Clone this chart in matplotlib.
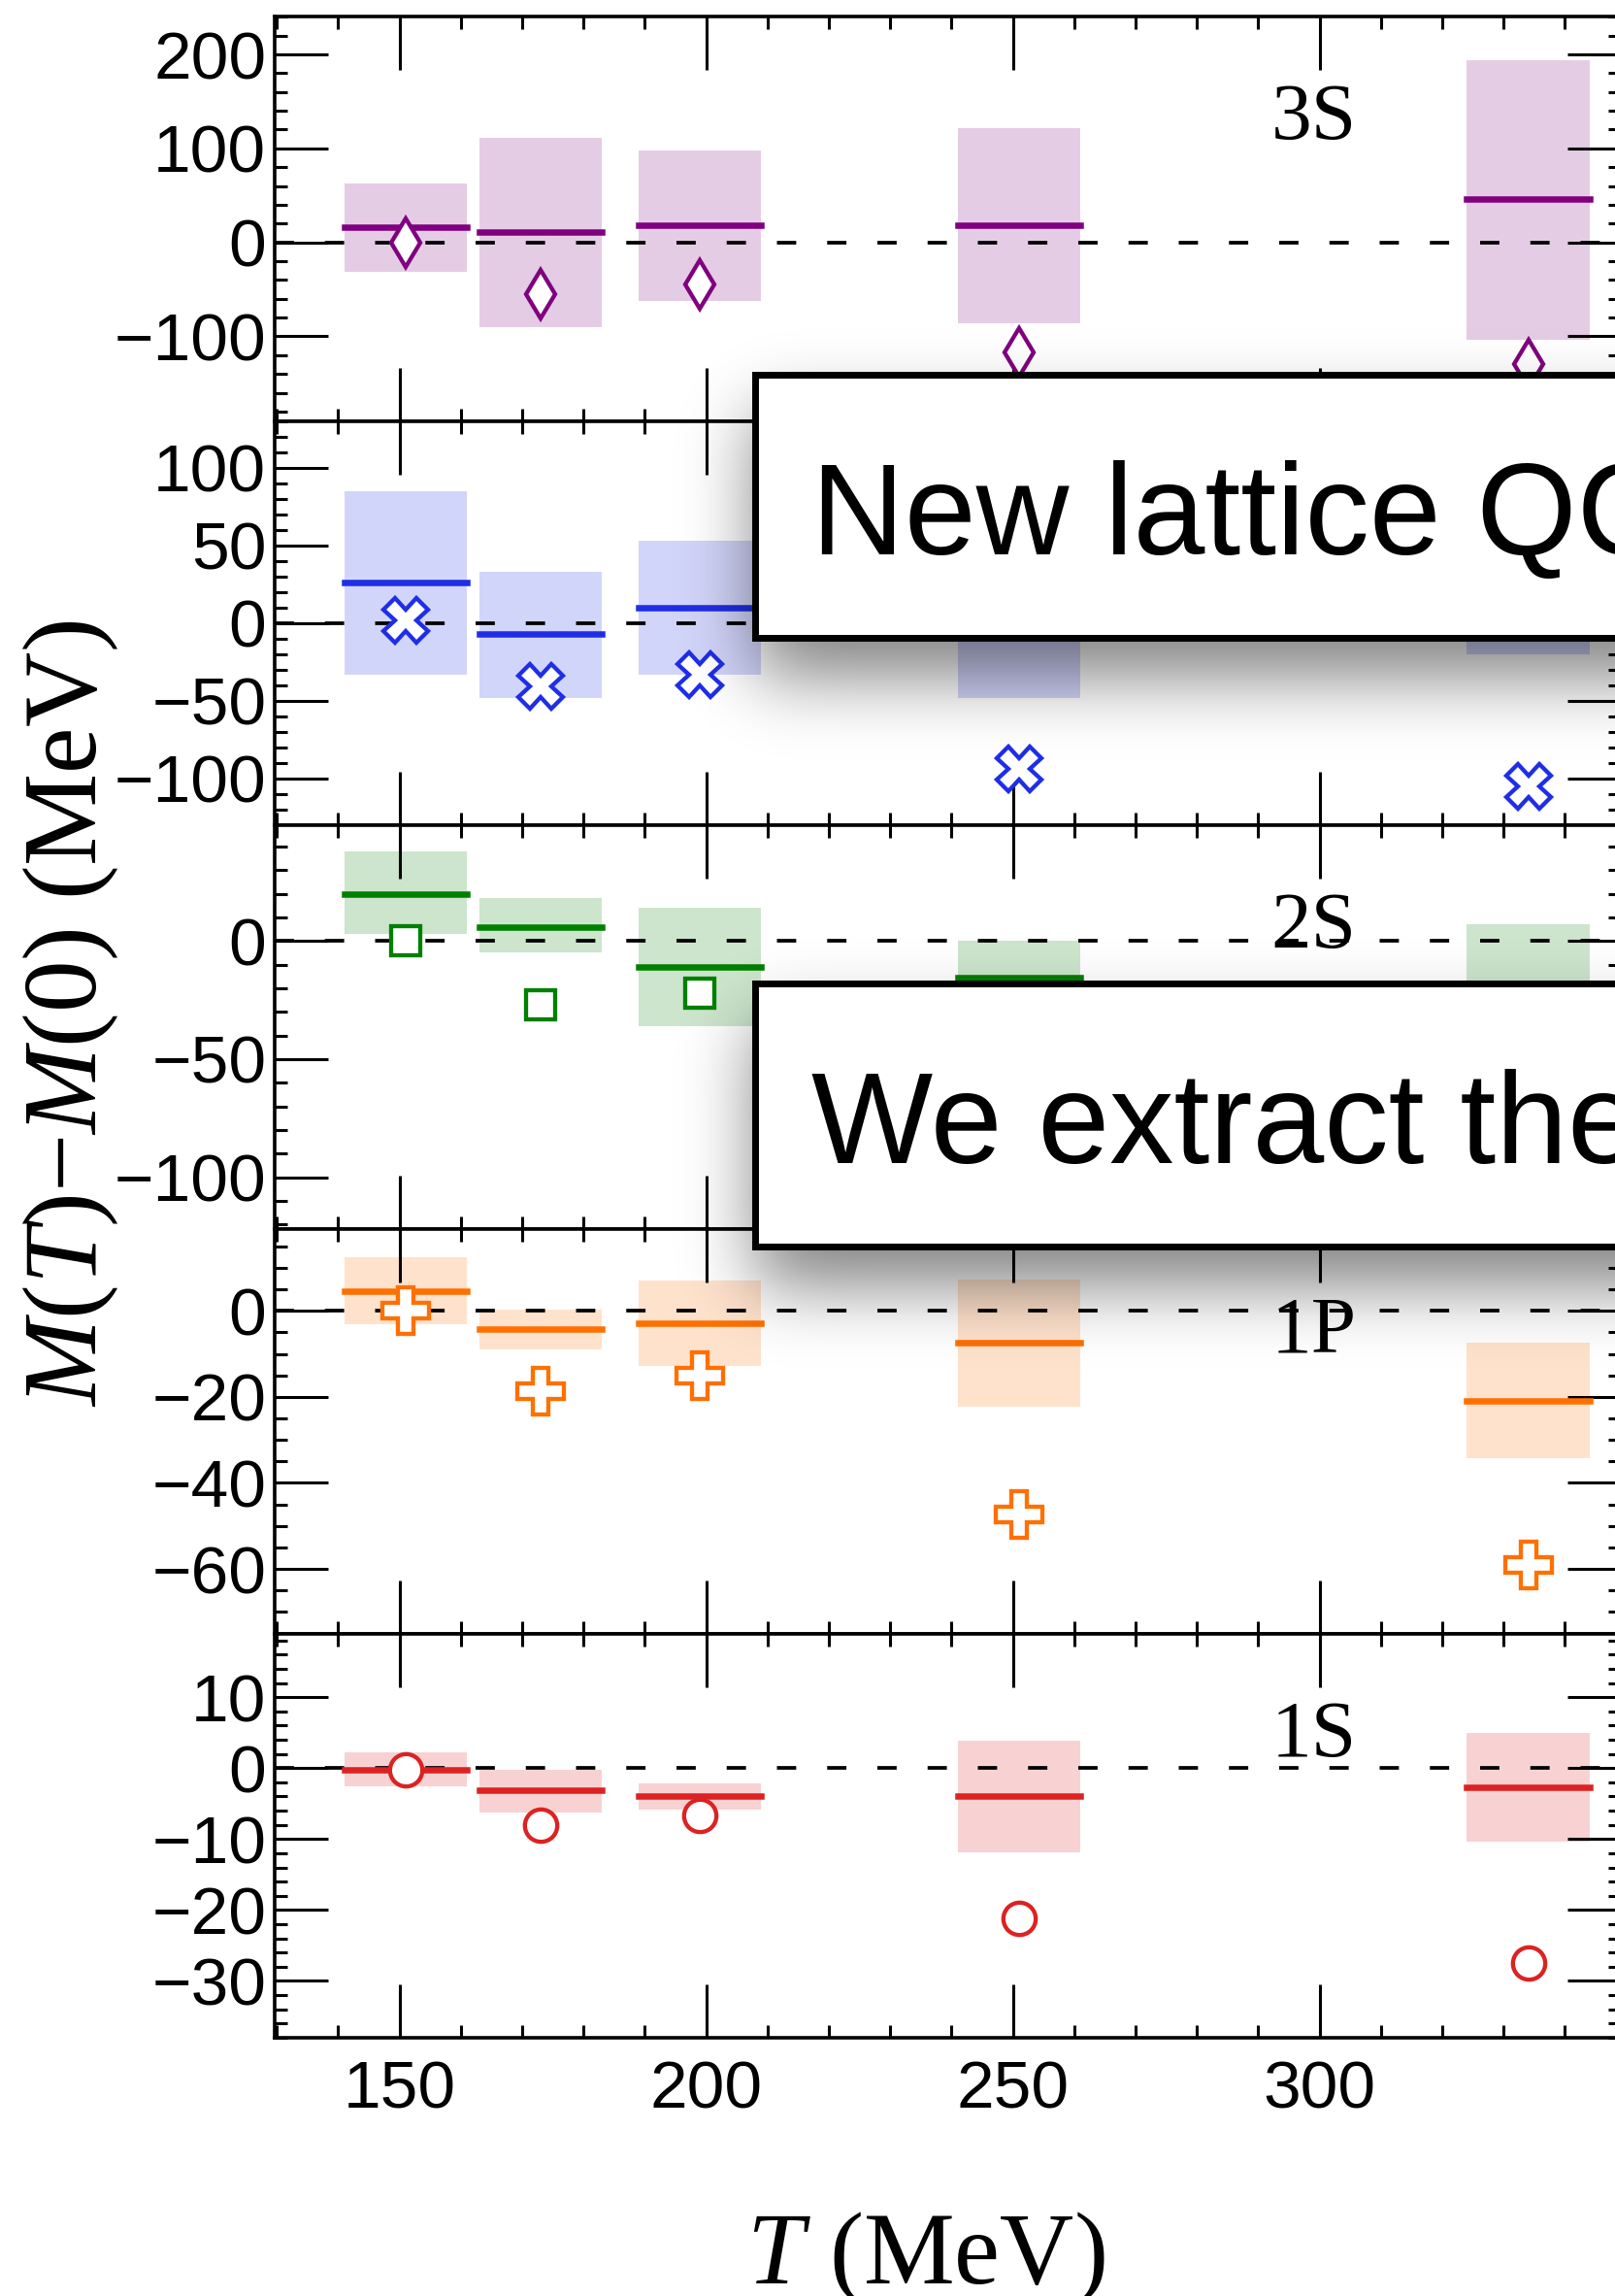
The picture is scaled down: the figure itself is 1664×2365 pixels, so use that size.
import math
import numpy as np
import matplotlib
matplotlib.use('Agg')
import matplotlib.pyplot as plt
from matplotlib.patches import Rectangle
from matplotlib.ticker import MultipleLocator

plt.rcParams['font.family'] = ['Liberation Sans', 'DejaVu Sans']
plt.rcParams['mathtext.fontset'] = 'custom'
plt.rcParams['mathtext.rm'] = 'Liberation Serif'
plt.rcParams['mathtext.it'] = 'Liberation Serif:italic'

# temperatures of the lattice ensembles (MeV)
temps = [151, 173, 199, 251, 334]

# mass shifts M(T)-M(0) in MeV: central value, band low/high, open-marker points
center_3s = [16, 11, 18, 18, 46]
low_3s = [-31, -90, -62, -86, -104]
high_3s = [63, 111, 98, 122, 194]
pts_3s = [0, -55, -45, -117, -129]

center_2p = [26, -7, 10, 4, 35]
low_2p = [-33, -48, -33, -48, -20]
high_2p = [85, 33, 53, 55, 95]
pts_2p = [2, -41, -33, -94, -105]

center_2s = [20, 6, -11, -15.5, -30]
low_2s = [3, -5, -36, -45, -65]
high_2s = [38, 18, 14, 0, 7]
pts_2s = [0, -27, -22, -55, -80]

center_1p = [4.7, -4.3, -2.9, -7.4, -20.9]
low_1p = [-3.1, -9, -12.8, -22.3, -34.2]
high_1p = [12.4, 0.2, 7, 7.2, -7.4]
pts_1p = [0, -18.6, -15, -47.3, -59]

center_1s = [-0.2, -3.1, -4.0, -4.0, -2.7]
low_1s = [-2.6, -6.2, -5.9, -11.9, -10.4]
high_1s = [2.2, -0.2, -2.1, 3.9, 4.9]
pts_1s = [-0.3, -8.1, -6.7, -21.2, -27.5]

states = ['3S', '2P', '2S', '1P', '1S']
centers = [center_3s, center_2p, center_2s, center_1p, center_1s]
lows = [low_3s, low_2p, low_2s, low_1p, low_1s]
highs = [high_3s, high_2p, high_2s, high_1p, high_1s]
points = [pts_3s, pts_2p, pts_2s, pts_1p, pts_1s]

colors = ['#800080', '#1F2EE6', '#008000', '#FF7000', '#DC2222']
markers = ['d', 'X', 's', 'P', 'o']
msizes = {'d': 25.5, 'X': 33, 's': 21.6, 'P': 34, 'o': 24}
ylims = [(-190, 240), (-130, 130), (-122, 49), (-75, 19), (-38, 19)]
ymajor = [100, 50, 50, 20, 10]
yminor = [20, 10, 10, 5, 2]

W, H, DPI = 1665, 2365, 100
fig = plt.figure(figsize=(W / DPI, H / DPI), dpi=DPI)

left, right = 282.6, 1670.0
top, panel_h = 17.3, 416.3
half = 10

axes = []
for i in range(5):
    y_top = top + i * panel_h
    ax = fig.add_axes([left / W, 1 - (y_top + panel_h) / H,
                       (right - left) / W, panel_h / H])
    axes.append(ax)
    c = colors[i]
    lo = np.array(lows[i], dtype=float)
    hi = np.array(highs[i], dtype=float)
    t = np.array(temps, dtype=float)

    ax.bar(t, hi - lo, bottom=lo, width=2 * half, color=c, alpha=0.2,
           linewidth=0, zorder=1)
    ax.axhline(0, color='black', lw=2.7, ls=(0, (5.3, 8.5)), zorder=2)
    ax.hlines(centers[i], t - half, t + half, colors=c, lw=4.7,
              capstyle='projecting', zorder=3)
    ax.plot(t, points[i], ls='none', marker=markers[i], ms=msizes[markers[i]],
            mfc='white', mec=c, mew=3.1, zorder=4)

    ax.text(299, 0.697, states[i], transform=ax.get_xaxis_transform(),
            ha='center', va='baseline', fontsize=60,
            family='Liberation Serif', zorder=5)

    ax.set_xlim(129.6, 349.1)
    ax.set_ylim(*ylims[i])
    ax.xaxis.set_major_locator(MultipleLocator(50))
    ax.xaxis.set_minor_locator(MultipleLocator(10))
    ax.yaxis.set_major_locator(MultipleLocator(ymajor[i]))
    ax.yaxis.set_minor_locator(MultipleLocator(yminor[i]))
    ax.tick_params(which='both', direction='in', top=True, right=True,
                   width=2.2, labelsize=50)
    ax.tick_params(which='major', length=39.6)
    ax.tick_params(which='minor', length=9.4)
    ax.tick_params(axis='y', pad=6)
    ax.tick_params(axis='x', pad=16, labelbottom=(i == 4))
    for sp in ax.spines.values():
        sp.set_linewidth(2.6)

fig.text(73 / W, 1 - 1044 / H, r'$M(T){-}M(0)$ (MeV)', rotation=90,
         ha='center', va='center', fontsize=77, family='Liberation Serif')
fig.text(954 / W, 1 - 2352 / H, r'$T$ (MeV)', ha='center', va='baseline',
         fontsize=76, family='Liberation Serif')

# callout boxes with a soft drop shadow on top of the plot
boxes = [(778.5, 385.5, 656.5, 'New lattice QCD results', 571),
         (778.5, 1012.5, 1283.5, 'We extract the masses', 1198)]

erf = np.vectorize(math.erf)


def soft_step(coord, a, b, s):
    k = s * math.sqrt(2)
    return 0.5 * (erf((coord - a) / k) - erf((coord - b) / k))


px = np.arange(W) + 0.5
py = np.arange(H) + 0.5
sigma, drop = 36.0, 40.0
shade = np.zeros((H, W))
for x0, y0, y1, _, _ in boxes:
    shade += np.outer(soft_step(py, y0 + drop, y1 + drop, sigma),
                      soft_step(px, x0, 4000, sigma))
rgba = np.zeros((H, W, 4))
rgba[..., 3] = np.clip(0.5 * shade, 0, 1)

over = fig.add_axes([0, 0, 1, 1], zorder=10)
over.set_xlim(0, W)
over.set_ylim(H, 0)
over.set_axis_off()
over.patch.set_visible(False)
over.imshow(rgba, extent=(0, W, H, 0), interpolation='nearest', zorder=1,
            aspect='auto')
for x0, y0, y1, label, base in boxes:
    over.add_patch(Rectangle((x0, y0), 3000, y1 - y0, facecolor='white',
                             edgecolor='black', lw=5, zorder=2))
    over.text(836, base, label, fontsize=95.5, ha='left', va='baseline',
              zorder=3)
over.set_xlim(0, W)
over.set_ylim(H, 0)

fig.savefig('out.png', dpi=DPI)
